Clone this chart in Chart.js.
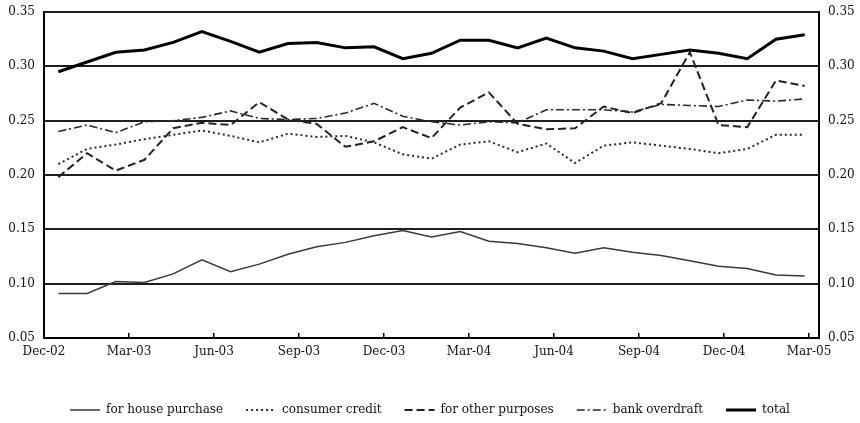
<!DOCTYPE html>
<html>
<head>
<meta charset="utf-8">
<script src="https://cdn.jsdelivr.net/npm/chart.js@4/dist/chart.umd.min.js"></script>
<style>
  html, body { margin: 0; padding: 0; background: #fff; }
  #wrap { position: relative; width: 860px; height: 423px; }
</style>
</head>
<body>
<div id="wrap"><canvas id="chart"></canvas></div>
<script>
// Monthly observations (27 months)
const months = [
  'Dec-02','Jan-03','Feb-03','Mar-03','Apr-03','May-03','Jun-03','Jul-03','Aug-03',
  'Sep-03','Oct-03','Nov-03','Dec-03','Jan-04','Feb-04','Mar-04','Apr-04','May-04',
  'Jun-04','Jul-04','Aug-04','Sep-04','Oct-04','Nov-04','Dec-04','Jan-05','Feb-05'
];

const housePurchase = [
  0.091, 0.091, 0.102, 0.101, 0.109, 0.122, 0.111, 0.118, 0.127,
  0.134, 0.138, 0.144, 0.149, 0.143, 0.148, 0.139, 0.137, 0.133,
  0.128, 0.133, 0.129, 0.126, 0.121, 0.116, 0.114, 0.108, 0.107
];

const consumerCredit = [
  0.210, 0.224, 0.228, 0.233, 0.237, 0.241, 0.236, 0.230, 0.238,
  0.235, 0.236, 0.230, 0.219, 0.215, 0.228, 0.231, 0.221, 0.229,
  0.211, 0.227, 0.230, 0.227, 0.224, 0.220, 0.224, 0.237, 0.237
];

const otherPurposes = [
  0.198, 0.220, 0.204, 0.214, 0.243, 0.248, 0.246, 0.267, 0.251,
  0.247, 0.226, 0.231, 0.244, 0.234, 0.262, 0.276, 0.247, 0.242,
  0.243, 0.263, 0.257, 0.266, 0.313, 0.246, 0.244, 0.287, 0.282
];

const bankOverdraft = [
  0.240, 0.246, 0.239, 0.249, 0.250, 0.253, 0.259, 0.252, 0.251,
  0.252, 0.257, 0.266, 0.254, 0.249, 0.246, 0.249, 0.248, 0.260,
  0.260, 0.260, 0.258, 0.265, 0.264, 0.263, 0.269, 0.268, 0.270
];

const total = [
  0.295, 0.304, 0.313, 0.315, 0.322, 0.332, 0.323, 0.313, 0.321,
  0.322, 0.317, 0.318, 0.307, 0.312, 0.324, 0.324, 0.317, 0.326,
  0.317, 0.314, 0.307, 0.311, 0.315, 0.312, 0.307, 0.325, 0.329
];

// Quarterly date labels along the bottom axis
const dateTicks = ['Dec-02','Mar-03','Jun-03','Sep-03','Dec-03','Mar-04','Jun-04','Sep-04','Dec-04','Mar-05'];
// Value axis ticks (both sides)
const valueTicks = [0.05, 0.10, 0.15, 0.20, 0.25, 0.30, 0.35];

Chart.defaults.font.family = "'DejaVu Serif', 'Liberation Serif', serif";
Chart.defaults.font.size = 12;
Chart.defaults.color = '#000';

const lineBase = { pointRadius: 0, pointHoverRadius: 0, tension: 0, fill: false, borderCapStyle: 'butt' };

const valueAxis = (pos, width, showGrid) => ({
  type: 'linear',
  position: pos,
  min: valueTicks[0],
  max: valueTicks[valueTicks.length - 1],
  afterBuildTicks: s => { s.ticks = valueTicks.map(v => ({ value: v })); },
  afterFit: s => { s.width = width; s.paddingTop = 0; s.paddingBottom = 0; },
  ticks: { callback: v => v.toFixed(2), padding: 9, color: '#111' },
  grid: { display: showGrid, drawOnChartArea: showGrid, drawTicks: false, color: '#1e1e1e', lineWidth: 2 },
  border: { display: true, color: '#000', width: 2 }
});

// Legend samples drawn as short lines carrying each series' dash pattern
const legendLabels = chart => {
  const base = Chart.defaults.plugins.legend.labels.generateLabels(chart);
  return base.map((item, i) => {
    const ds = chart.data.datasets[i];
    return {
      ...item,
      pointStyle: 'line',
      lineDash: ds.borderDash || [],
      lineWidth: ds.borderWidth,
      strokeStyle: ds.borderColor,
      fillStyle: ds.borderColor
    };
  });
};

new Chart(document.getElementById('chart'), {
  type: 'line',
  data: {
    labels: months,
    datasets: [
      { ...lineBase, label: 'for house purchase', data: housePurchase, borderColor: '#3a3a3a', borderWidth: 1.5 },
      { ...lineBase, label: 'consumer credit', data: consumerCredit, borderColor: '#2a2a2a', borderWidth: 2, borderDash: [2, 3] },
      { ...lineBase, label: 'for other purposes', data: otherPurposes, borderColor: '#222', borderWidth: 2, borderDash: [8, 4] },
      { ...lineBase, label: 'bank overdraft', data: bankOverdraft, borderColor: '#2a2a2a', borderWidth: 1.6, borderDash: [8, 3, 2, 3] },
      { ...lineBase, label: 'total', data: total, borderColor: '#000', borderWidth: 3 }
    ]
  },
  options: {
    responsive: true,
    maintainAspectRatio: false,
    animation: false,
    events: [],
    layout: { padding: { top: 12, bottom: -3, left: 0, right: 0 } },
    scales: {
      x: { type: 'category', display: false, offset: true },
      xDates: {
        type: 'linear',
        position: 'bottom',
        min: 0,
        max: 27.35,
        afterBuildTicks: s => { s.ticks = dateTicks.map((_, i) => ({ value: i * 3 })); },
        afterFit: s => { s.height = 43; },
        ticks: { callback: (v, i) => dateTicks[i], autoSkip: false, maxRotation: 0, padding: 12, color: '#111' },
        grid: { drawOnChartArea: false, drawTicks: true, tickLength: -5, color: '#000', lineWidth: 1.5 },
        border: { display: true, color: '#000', width: 2 }
      },
      y: valueAxis('left', 44, true),
      y2: valueAxis('right', 41, false)
    },
    plugins: {
      tooltip: { enabled: false },
      legend: {
        position: 'bottom',
        labels: {
          usePointStyle: true,
          pointStyle: 'line',
          pointStyleWidth: 30,
          boxHeight: 12,
          padding: 23,
          color: '#111',
          font: { size: 12 },
          generateLabels: legendLabels
        }
      }
    }
  }
});
</script>
</body>
</html>
